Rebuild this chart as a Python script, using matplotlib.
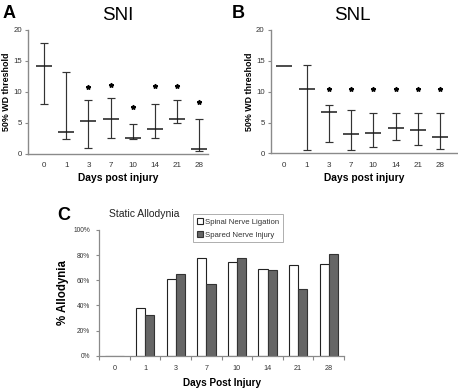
import matplotlib
matplotlib.use("Agg")
import matplotlib.pyplot as plt
import numpy as np

plt.rcParams['font.family'] = ['Liberation Sans', 'DejaVu Sans']

# ---------------- data ----------------
days = ["0", "1", "3", "7", "10", "14", "21", "28"]

# Panel A: SNI, 50% withdrawal threshold (median, upper, lower)
sni_median = [14.1, 3.55, 5.3, 5.6, 2.6, 4.0, 5.65, 0.78]
sni_upper = [17.9, 13.2, 8.66, 9.03, 4.74, 7.97, 8.66, 5.65]
sni_lower = [7.97, 2.37, 0.97, 2.53, 2.3, 2.58, 5.0, 0.48]
sni_sig = [False, False, True, True, True, True, True, True]
sni_star_y = [0, 0, 10.8, 11.1, 7.6, 10.9, 10.9, 8.4]

# Panel B: SNL
snl_median = [14.15, 10.5, 6.7, 3.18, 3.3, 4.2, 3.77, 2.64]
snl_upper = [np.nan, 14.3, 7.85, 6.95, 6.6, 6.6, 6.6, 6.6]
snl_lower = [np.nan, 0.5, 1.84, 0.5, 1.03, 2.15, 1.4, 0.8]
snl_sig = [False, False, True, True, True, True, True, True]
snl_star_y = [0, 0, 10.4, 10.4, 10.4, 10.4, 10.4, 10.4]

# Panel C: % static allodynia
allo_snl = [0, 38.2, 61.3, 77.5, 74.3, 68.7, 71.9, 73.2]
allo_sni = [0, 32.4, 64.7, 56.8, 77.7, 68.2, 53.3, 81.1]
allo_ticks = [0, 20, 40, 60, 80, 100]

W, H = 458, 390
fig = plt.figure(figsize=(W / 100, H / 100), dpi=100)


def px_axes(l, t, r, b):
    return fig.add_axes([l / W, 1 - b / H, (r - l) / W, (b - t) / H])


spine_col = "#8a8a8a"
tick_col = "#333333"


def threshold_panel(ax, med, up, lo, sig, stary, xlim):
    x = np.arange(len(days))
    med = np.array(med, float)
    up = np.array(up, float)
    lo = np.array(lo, float)
    has = ~np.isnan(up)
    yerr = np.vstack([med[has] - lo[has], up[has] - med[has]])
    ax.errorbar(x[has], med[has], yerr=yerr, fmt='none', ecolor="#333333",
                elinewidth=0.85, capsize=2.6, capthick=0.85)
    ax.plot(x, med, linestyle='none', marker='_', markersize=11,
            markeredgewidth=1.1, color="#1a1a1a")
    for i, s in enumerate(sig):
        if s:
            ax.plot(x[i], stary[i], marker=(5, 1, 0), markersize=3.2,
                    color="black", linestyle='none')
    ax.set_xlim(*xlim)
    ax.set_ylim(0, 20)
    ax.set_yticks([0, 5, 10, 15, 20])
    ax.set_xticks(x)
    ax.set_xticklabels(days)
    for s in ["top", "right"]:
        ax.spines[s].set_visible(False)
    for s in ["left", "bottom"]:
        ax.spines[s].set_color(spine_col)
        ax.spines[s].set_linewidth(1.0)
    ax.tick_params(axis='y', length=2.5, width=0.8, color=spine_col,
                   labelsize=5.6, labelcolor=tick_col, pad=2)
    ax.tick_params(axis='x', length=0, labelsize=5.8, labelcolor=tick_col, pad=6)
    ax.set_ylabel("50% WD threshold", fontsize=6.4, fontweight='bold', labelpad=1.5)
    ax.set_xlabel("Days post injury", fontsize=7.4, fontweight='bold', labelpad=3)


axA = px_axes(28.3, 29.7, 208, 153.7)
threshold_panel(axA, sni_median, sni_upper, sni_lower, sni_sig, sni_star_y, (-0.72, 7.4))
axB = px_axes(271, 29.7, 456.7, 153.5)
threshold_panel(axB, snl_median, snl_upper, snl_lower, snl_sig, snl_star_y, (-0.6, 7.75))

fig.text(118 / W, 1 - 15 / H, "SNI", fontsize=13.5, ha='center', va='center')
fig.text(352 / W, 1 - 15 / H, "SNL", fontsize=13.5, ha='center', va='center')
fig.text(3 / W, 1 - 14 / H, "A", fontsize=13, fontweight='bold', ha='left', va='center')
fig.text(232 / W, 1 - 14 / H, "B", fontsize=13, fontweight='bold', ha='left', va='center')

# ---------------- Panel C ----------------
axC = px_axes(99.3, 230, 344, 355.7)
x = np.arange(len(days))
bw = 0.3
axC.bar(x - bw / 2, allo_snl, width=bw, color="white", edgecolor="#222222",
        linewidth=0.8, label="Spinal Nerve Ligation")
axC.bar(x + bw / 2, allo_sni, width=bw, color="#666666", edgecolor="#333333",
        linewidth=0.8, label="Spared Nerve Injury")
axC.set_xlim(-0.5, len(days) - 0.5)
axC.set_ylim(0, 100)
axC.set_yticks(allo_ticks)
axC.set_yticklabels([f"{v}%" for v in allo_ticks])
axC.set_xticks(x)
axC.set_xticklabels(days)
axC.set_xticks(np.arange(len(days) + 1) - 0.5, minor=True)
for s in ["top", "right"]:
    axC.spines[s].set_visible(False)
for s in ["left", "bottom"]:
    axC.spines[s].set_color(spine_col)
    axC.spines[s].set_linewidth(0.9)
axC.tick_params(axis='y', length=2.5, width=0.8, color=spine_col,
                labelsize=4.8, labelcolor=tick_col, pad=4)
axC.tick_params(axis='x', which='major', length=0, labelsize=5.2,
                labelcolor=tick_col, pad=7)
axC.tick_params(axis='x', which='minor', length=3, width=0.8, color=spine_col)
axC.set_ylabel("% Allodynia", fontsize=8.3, fontweight='bold', labelpad=3)
axC.set_xlabel("Days Post Injury", fontsize=7.2, fontweight='bold', labelpad=4)

leg = axC.legend(loc='upper left', bbox_to_anchor=((193.3 - 99.3) / (344 - 99.3),
                 (355.7 - 214.3) / (355.7 - 230)), fontsize=5.6, frameon=True,
                 fancybox=False, edgecolor="#999999", handlelength=0.7,
                 handleheight=0.7, handletextpad=0.3, borderpad=0.5,
                 labelspacing=0.7, borderaxespad=0)
leg.get_frame().set_linewidth(0.7)
for t in leg.get_texts():
    t.set_color("#333333")

fig.text(109 / W, 1 - 214 / H, "Static Allodynia", fontsize=7.5, ha='left',
         va='center', color="#222222")
fig.text(57 / W, 1 - 215 / H, "C", fontsize=13, fontweight='bold', ha='left', va='center')

fig.savefig("out.png", dpi=100)
